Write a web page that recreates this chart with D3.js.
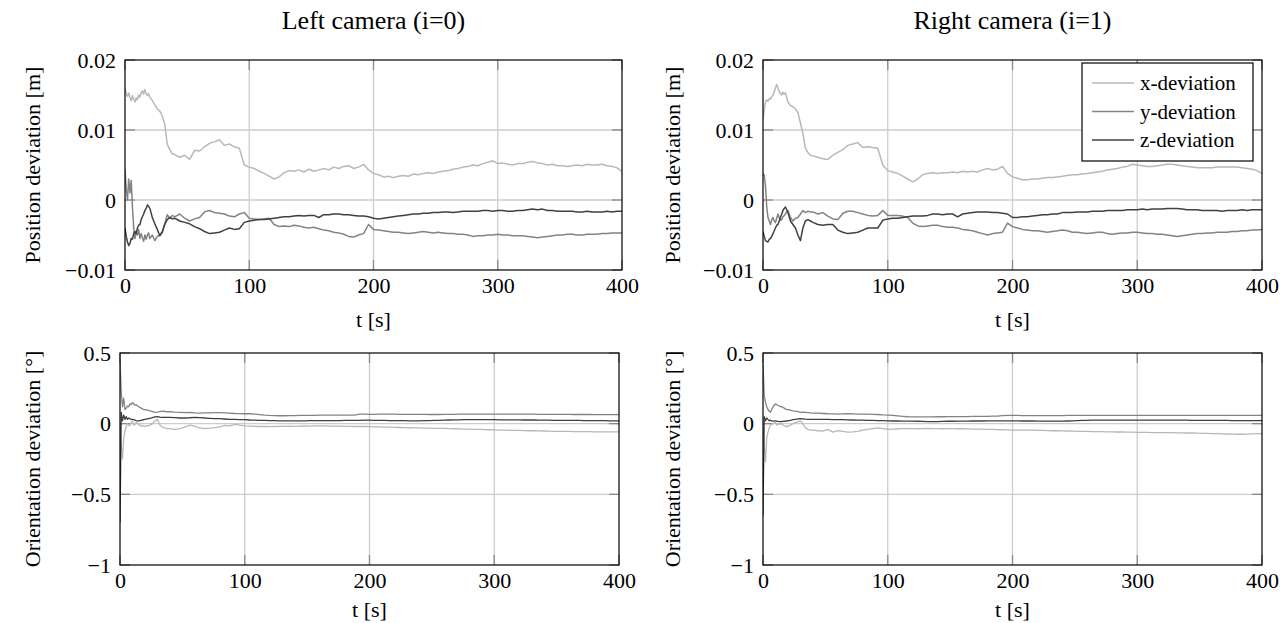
<!DOCTYPE html>
<html>
<head>
<meta charset="utf-8">
<script src="https://cdn.jsdelivr.net/npm/d3@7"></script>
<style>
  body { margin: 0; background: #fff; }
  svg text { font-family: "Liberation Serif", "Times New Roman", serif !important; fill: #000; }
</style>
</head>
<body>
<svg id="chart" width="1286" height="623" font-family="Liberation Serif, serif"></svg>
<script>
'use strict'

// time stamps [s], shared by every series
const tSec = [
  0, 1, 2, 3, 4, 5, 6, 7, 8, 9,
  10, 11, 12, 13, 14, 15, 16, 17, 18, 19,
  20, 22, 24, 26, 28, 30, 32, 34, 36, 38,
  40, 44, 48, 52, 56, 60, 64, 68, 72, 76,
  80, 84, 88, 92, 96, 100, 104, 108, 112, 116,
  120, 124, 128, 132, 136, 140, 144, 148, 152, 156,
  160, 164, 168, 172, 176, 180, 184, 188, 192, 196,
  200, 204, 208, 212, 216, 220, 224, 228, 232, 236,
  240, 244, 248, 252, 256, 260, 264, 268, 272, 276,
  280, 284, 288, 292, 296, 300, 304, 308, 312, 316,
  320, 324, 328, 332, 336, 340, 344, 348, 352, 356,
  360, 364, 368, 372, 376, 380, 384, 388, 392, 396,
  400];

// position deviation, left camera [mm]
const posLeftX = [
  16.0, 15.2, 14.8, 15.3, 14.6, 14.2, 14.9, 14.4, 14.0, 14.6,
  14.3, 15.0, 14.7, 15.3, 15.6, 15.1, 15.8, 15.2, 14.9, 15.2,
  14.7, 14.2, 13.6, 13.0, 12.7, 12.0, 10.8, 8.0, 7.2, 6.6,
  6.5, 6.1, 6.4, 5.8, 7.1, 7.0, 7.6, 8.1, 8.3, 8.6,
  7.8, 8.0, 7.6, 7.4, 5.0, 4.7, 4.5, 4.1, 3.8, 3.4,
  3.0, 3.3, 3.9, 4.2, 4.1, 4.3, 4.0, 4.4, 4.1, 4.3,
  4.5, 4.3, 4.7, 4.5, 4.8, 4.9, 4.5, 4.7, 5.1, 4.3,
  3.8, 3.6, 3.3, 3.4, 3.2, 3.4, 3.5, 3.4, 3.7, 3.6,
  3.8, 3.9, 3.8, 4.0, 4.1, 4.2, 4.4, 4.5, 4.7, 4.8,
  5.0, 4.9, 5.2, 5.4, 5.6, 5.2, 5.3, 5.1, 5.0, 5.2,
  5.2, 5.4, 5.5, 5.3, 5.2, 5.0, 5.1, 4.9, 4.9, 4.8,
  4.9, 5.0, 4.9, 5.1, 5.0, 5.0, 5.1, 4.9, 4.8, 4.6,
  4.1];
const posLeftY = [
  4.4, 1.5, 0.0, 3.0, 1.0, 2.8, -1.0, -4.0, -5.5, -4.6,
  -5.0, -4.2, -5.5, -4.8, -5.4, -5.9, -5.0, -5.6, -5.0, -4.7,
  -5.5, -5.0, -5.8, -5.2, -5.0, -4.5, -3.4, -2.1, -2.6, -2.2,
  -2.4, -2.0, -2.6, -3.0, -2.7, -2.5, -1.7, -1.5, -1.8, -1.9,
  -2.0, -2.3, -2.4, -2.0, -1.8, -2.6, -2.7, -2.8, -2.7, -2.6,
  -3.5, -3.8, -3.7, -3.8, -3.6, -3.7, -3.9, -4.0, -3.9, -4.1,
  -4.3, -4.4, -4.6, -4.7, -4.9, -5.2, -5.3, -5.0, -4.8, -3.5,
  -4.2, -4.3, -4.4, -4.5, -4.6, -4.6, -4.7, -4.8, -4.7, -4.6,
  -4.5, -4.6, -4.7, -4.6, -4.7, -4.8, -4.8, -4.9, -4.9, -5.0,
  -5.2, -5.1, -5.1, -5.0, -5.0, -4.9, -5.0, -5.0, -5.1, -5.1,
  -5.1, -5.2, -5.3, -5.4, -5.3, -5.2, -5.1, -5.0, -5.0, -4.9,
  -4.9, -5.0, -5.0, -4.9, -4.9, -4.9, -4.8, -4.8, -4.7, -4.7,
  -4.7];
const posLeftZ = [
  -4.0, -5.2, -6.0, -6.5, -6.2, -5.5, -5.6, -4.8, -4.5, -4.8,
  -4.0, -3.6, -3.5, -2.8, -2.4, -2.0, -1.5, -1.2, -0.7, -0.9,
  -1.2, -2.5, -3.4, -4.2, -5.1, -4.6, -3.5, -2.8, -2.5, -2.7,
  -2.6, -3.0, -3.2, -3.4, -3.8, -4.1, -4.5, -4.8, -4.7, -4.6,
  -4.3, -4.0, -4.2, -4.1, -3.2, -3.0, -2.9, -2.8, -2.8, -2.7,
  -2.6, -2.5, -2.4, -2.4, -2.3, -2.2, -2.3, -2.2, -2.2, -2.5,
  -2.1, -2.1, -2.0, -2.0, -2.1, -2.1, -2.2, -2.3, -2.3, -2.4,
  -2.6, -2.7, -2.6, -2.5, -2.4, -2.3, -2.2, -2.1, -2.0, -2.0,
  -1.9, -1.9, -1.8, -1.8, -1.7, -1.7, -1.8, -1.7, -1.6, -1.6,
  -1.6, -1.6, -1.5, -1.5, -1.6, -1.5, -1.5, -1.6, -1.6, -1.5,
  -1.5, -1.4, -1.3, -1.4, -1.3, -1.5, -1.5, -1.6, -1.6, -1.6,
  -1.6, -1.7, -1.7, -1.6, -1.7, -1.7, -1.7, -1.6, -1.7, -1.6,
  -1.6];

// position deviation, right camera [mm]
const posRightX = [
  11.5, 13.0, 14.0, 14.3, 14.1, 14.5, 14.4, 14.8, 15.0, 15.4,
  16.0, 16.5, 16.0, 15.5, 15.2, 15.0, 15.4, 15.1, 15.3, 14.6,
  14.0, 13.5, 13.3, 13.0, 12.5, 11.0, 9.5, 7.4, 6.8, 6.4,
  6.3, 6.1, 5.9, 5.8, 6.4, 6.8, 7.2, 7.8, 8.0, 8.2,
  7.5, 7.6, 7.5, 7.4, 5.0, 4.2, 4.0, 3.8, 3.4, 3.0,
  2.6, 3.0, 3.6, 3.8, 3.9, 3.8, 3.9, 3.9, 4.0, 3.9,
  4.1, 4.0, 4.1, 4.0, 4.3, 4.5, 4.3, 4.4, 4.8, 3.8,
  3.3, 3.1, 2.9, 2.9, 3.0, 3.0, 3.1, 3.2, 3.2, 3.3,
  3.4, 3.5, 3.6, 3.6, 3.7, 3.8, 3.9, 4.0, 4.1, 4.3,
  4.4, 4.5, 4.7, 4.8, 5.1, 5.0, 4.9, 4.8, 4.8, 4.9,
  5.0, 5.1, 5.1, 5.0, 4.9, 4.8, 4.7, 4.6, 4.6, 4.6,
  4.6, 4.7, 4.7, 4.7, 4.7, 4.7, 4.6, 4.5, 4.4, 4.2,
  3.8];
const posRightY = [
  3.8, 3.5, 2.0, -1.0, -2.5, -3.0, -3.5, -2.8, -2.5, -3.0,
  -3.2, -2.6, -2.0, -2.5, -2.9, -2.8, -2.4, -2.2, -2.0, -1.7,
  -1.5, -2.5, -3.0, -2.6, -2.5, -2.0, -1.5, -1.8, -1.6, -1.7,
  -1.7, -2.0, -1.8, -2.3, -2.7, -2.8, -1.9, -1.6, -1.6, -1.8,
  -2.0, -2.2, -2.3, -2.2, -1.5, -2.2, -2.2, -2.2, -2.3, -2.5,
  -3.3, -3.7, -3.8, -3.7, -3.6, -3.6, -3.8, -3.9, -3.9, -4.0,
  -4.2, -4.3, -4.4, -4.6, -4.8, -5.0, -4.8, -4.7, -4.6, -3.3,
  -3.8, -4.0, -4.2, -4.3, -4.4, -4.4, -4.5, -4.6, -4.5, -4.4,
  -4.3, -4.4, -4.6, -4.6, -4.7, -4.8, -4.7, -4.6, -4.6, -4.8,
  -4.9, -4.8, -4.7, -4.7, -4.6, -4.6, -4.7, -4.8, -4.8, -4.9,
  -4.9, -5.0, -5.1, -5.2, -5.1, -5.0, -4.9, -4.8, -4.8, -4.7,
  -4.7, -4.6, -4.6, -4.6, -4.5, -4.5, -4.4, -4.4, -4.3, -4.3,
  -4.2];
const posRightZ = [
  -4.5, -5.2, -5.8, -5.9, -6.0, -5.6, -5.5, -5.2, -4.8, -4.4,
  -4.0, -3.6, -3.5, -3.0, -2.5, -2.0, -1.5, -1.2, -1.0, -1.4,
  -1.8, -3.0, -3.5, -4.0, -5.0, -5.8, -4.0, -3.0, -2.8, -3.0,
  -3.2, -3.5, -3.6, -3.5, -3.5, -4.3, -4.6, -4.8, -4.7, -4.6,
  -4.3, -4.0, -4.0, -4.0, -2.9, -2.7, -2.6, -2.6, -2.5, -2.4,
  -2.3, -2.3, -2.3, -2.2, -2.0, -2.0, -2.1, -2.0, -2.0, -2.4,
  -2.0, -1.9, -1.8, -1.7, -1.7, -1.7, -1.8, -1.8, -1.9, -2.0,
  -2.5, -2.5, -2.4, -2.4, -2.3, -2.2, -2.1, -2.1, -2.0, -2.0,
  -1.8, -1.8, -1.8, -1.7, -1.7, -1.7, -1.6, -1.6, -1.6, -1.5,
  -1.5, -1.5, -1.5, -1.4, -1.4, -1.4, -1.3, -1.4, -1.3, -1.3,
  -1.3, -1.2, -1.2, -1.2, -1.3, -1.4, -1.4, -1.4, -1.5, -1.5,
  -1.5, -1.5, -1.6, -1.5, -1.5, -1.5, -1.4, -1.5, -1.4, -1.4,
  -1.4];

// orientation deviation, left camera [deg]
const oriLeftX = [
  0.000, -0.150, -0.250, -0.100, -0.050, -0.020, 0.000, -0.015, -0.010, 0.005,
  0.020, -0.010, -0.005, 0.010, 0.000, -0.005, -0.015, -0.010, -0.020, -0.015,
  -0.020, -0.015, -0.010, 0.000, 0.020, 0.030, -0.010, -0.025, -0.030, -0.035,
  -0.035, -0.040, -0.035, -0.025, -0.010, -0.020, -0.030, -0.035, -0.032, -0.028,
  -0.022, -0.012, -0.015, -0.005, -0.010, -0.015, -0.017, -0.019, -0.020, -0.020,
  -0.021, -0.020, -0.019, -0.019, -0.018, -0.019, -0.017, -0.016, -0.017, -0.015,
  -0.015, -0.016, -0.017, -0.017, -0.018, -0.019, -0.019, -0.020, -0.020, -0.020,
  -0.021, -0.022, -0.023, -0.024, -0.025, -0.026, -0.027, -0.028, -0.029, -0.030,
  -0.030, -0.031, -0.032, -0.033, -0.033, -0.034, -0.035, -0.036, -0.037, -0.038,
  -0.039, -0.040, -0.041, -0.042, -0.043, -0.044, -0.045, -0.046, -0.047, -0.048,
  -0.048, -0.049, -0.050, -0.050, -0.051, -0.052, -0.053, -0.054, -0.054, -0.055,
  -0.055, -0.056, -0.056, -0.057, -0.057, -0.058, -0.058, -0.058, -0.058, -0.058,
  -0.058];
const oriLeftY = [
  0.450, 0.220, 0.120, 0.180, 0.100, 0.110, 0.125, 0.120, 0.140, 0.135,
  0.150, 0.140, 0.130, 0.135, 0.125, 0.120, 0.115, 0.110, 0.105, 0.100,
  0.100, 0.095, 0.090, 0.085, 0.080, 0.082, 0.085, 0.088, 0.086, 0.084,
  0.085, 0.082, 0.080, 0.078, 0.079, 0.076, 0.075, 0.077, 0.076, 0.078,
  0.078, 0.076, 0.074, 0.072, 0.071, 0.070, 0.070, 0.068, 0.064, 0.060,
  0.058, 0.057, 0.056, 0.056, 0.057, 0.057, 0.058, 0.058, 0.059, 0.059,
  0.060, 0.060, 0.061, 0.061, 0.060, 0.060, 0.061, 0.060, 0.067, 0.067,
  0.066, 0.066, 0.067, 0.067, 0.068, 0.067, 0.066, 0.066, 0.066, 0.066,
  0.066, 0.066, 0.065, 0.065, 0.065, 0.066, 0.066, 0.066, 0.067, 0.067,
  0.067, 0.067, 0.068, 0.068, 0.068, 0.068, 0.068, 0.068, 0.068, 0.068,
  0.068, 0.067, 0.067, 0.067, 0.066, 0.066, 0.066, 0.066, 0.066, 0.066,
  0.066, 0.065, 0.065, 0.065, 0.065, 0.064, 0.064, 0.064, 0.064, 0.064,
  0.064];
const oriLeftZ = [
  -0.700, 0.080, 0.020, 0.060, 0.030, 0.050, 0.030, 0.040, 0.035, 0.030,
  0.030, 0.028, 0.025, 0.022, 0.020, 0.020, 0.022, 0.024, 0.026, 0.028,
  0.030, 0.034, 0.038, 0.042, 0.048, 0.050, 0.046, 0.045, 0.044, 0.045,
  0.045, 0.043, 0.040, 0.040, 0.042, 0.045, 0.043, 0.040, 0.038, 0.036,
  0.035, 0.033, 0.031, 0.030, 0.029, 0.028, 0.026, 0.025, 0.024, 0.023,
  0.022, 0.021, 0.020, 0.020, 0.020, 0.020, 0.020, 0.020, 0.021, 0.021,
  0.021, 0.022, 0.022, 0.022, 0.022, 0.023, 0.023, 0.024, 0.024, 0.025,
  0.025, 0.024, 0.023, 0.023, 0.022, 0.022, 0.021, 0.021, 0.020, 0.020,
  0.020, 0.021, 0.022, 0.023, 0.024, 0.025, 0.026, 0.027, 0.027, 0.028,
  0.028, 0.028, 0.028, 0.028, 0.028, 0.028, 0.027, 0.027, 0.027, 0.027,
  0.027, 0.026, 0.026, 0.026, 0.025, 0.025, 0.025, 0.024, 0.024, 0.024,
  0.023, 0.023, 0.023, 0.022, 0.022, 0.022, 0.021, 0.021, 0.020, 0.020,
  0.020];

// orientation deviation, right camera [deg]
const oriRightX = [
  0.000, -0.150, -0.270, -0.100, -0.060, -0.030, -0.010, -0.005, 0.000, 0.005,
  0.010, -0.010, -0.005, 0.000, -0.005, 0.000, -0.010, -0.015, -0.020, -0.018,
  -0.020, -0.010, 0.000, 0.008, 0.015, 0.020, 0.000, -0.030, -0.040, -0.045,
  -0.045, -0.050, -0.052, -0.040, -0.060, -0.050, -0.055, -0.060, -0.058, -0.055,
  -0.045, -0.040, -0.035, -0.030, -0.035, -0.040, -0.038, -0.036, -0.035, -0.035,
  -0.035, -0.036, -0.035, -0.034, -0.035, -0.035, -0.036, -0.035, -0.035, -0.036,
  -0.036, -0.037, -0.038, -0.038, -0.039, -0.040, -0.041, -0.042, -0.043, -0.044,
  -0.045, -0.045, -0.045, -0.046, -0.046, -0.047, -0.048, -0.049, -0.050, -0.050,
  -0.051, -0.052, -0.053, -0.054, -0.055, -0.055, -0.056, -0.057, -0.057, -0.058,
  -0.058, -0.059, -0.059, -0.060, -0.060, -0.061, -0.061, -0.062, -0.063, -0.063,
  -0.063, -0.064, -0.064, -0.065, -0.065, -0.066, -0.066, -0.067, -0.068, -0.069,
  -0.070, -0.071, -0.072, -0.073, -0.074, -0.075, -0.075, -0.074, -0.072, -0.071,
  -0.070];
const oriRightY = [
  0.420, 0.200, 0.150, 0.120, 0.100, 0.090, 0.080, 0.100, 0.120, 0.130,
  0.140, 0.135, 0.130, 0.125, 0.120, 0.120, 0.115, 0.110, 0.105, 0.100,
  0.100, 0.095, 0.090, 0.088, 0.085, 0.080, 0.082, 0.080, 0.078, 0.076,
  0.075, 0.074, 0.072, 0.070, 0.069, 0.068, 0.069, 0.070, 0.069, 0.068,
  0.068, 0.067, 0.066, 0.065, 0.062, 0.060, 0.058, 0.055, 0.052, 0.049,
  0.048, 0.048, 0.048, 0.048, 0.048, 0.049, 0.049, 0.050, 0.050, 0.050,
  0.050, 0.050, 0.051, 0.051, 0.052, 0.052, 0.053, 0.054, 0.057, 0.058,
  0.058, 0.058, 0.057, 0.057, 0.057, 0.057, 0.057, 0.057, 0.057, 0.057,
  0.057, 0.058, 0.058, 0.058, 0.059, 0.059, 0.059, 0.058, 0.058, 0.058,
  0.058, 0.058, 0.059, 0.059, 0.059, 0.058, 0.058, 0.058, 0.058, 0.058,
  0.058, 0.059, 0.059, 0.059, 0.058, 0.058, 0.058, 0.058, 0.058, 0.058,
  0.058, 0.058, 0.058, 0.058, 0.058, 0.058, 0.058, 0.058, 0.058, 0.058,
  0.058];
const oriRightZ = [
  -0.650, 0.050, 0.020, 0.040, 0.030, 0.020, 0.025, 0.020, 0.018, 0.020,
  0.020, 0.018, 0.016, 0.015, 0.015, 0.015, 0.016, 0.017, 0.018, 0.019,
  0.020, 0.024, 0.028, 0.031, 0.034, 0.035, 0.034, 0.032, 0.031, 0.030,
  0.030, 0.030, 0.030, 0.030, 0.029, 0.028, 0.028, 0.027, 0.026, 0.025,
  0.025, 0.024, 0.023, 0.022, 0.021, 0.020, 0.019, 0.019, 0.018, 0.018,
  0.018, 0.017, 0.016, 0.015, 0.015, 0.015, 0.016, 0.017, 0.017, 0.018,
  0.018, 0.018, 0.019, 0.019, 0.019, 0.020, 0.020, 0.020, 0.020, 0.020,
  0.020, 0.020, 0.019, 0.019, 0.019, 0.018, 0.018, 0.018, 0.018, 0.018,
  0.018, 0.019, 0.020, 0.022, 0.023, 0.024, 0.025, 0.025, 0.025, 0.025,
  0.025, 0.025, 0.025, 0.025, 0.025, 0.025, 0.025, 0.025, 0.025, 0.025,
  0.025, 0.025, 0.025, 0.025, 0.025, 0.025, 0.024, 0.024, 0.024, 0.023,
  0.023, 0.023, 0.023, 0.023, 0.022, 0.022, 0.022, 0.022, 0.022, 0.022,
  0.022];

const seriesNames = ['x-deviation', 'y-deviation', 'z-deviation'];
const xTicks = [0, 100, 200, 300, 400];
const posTicks = [-0.01, 0, 0.01, 0.02];
const posTickLabels = ['\u22120.01', '0', '0.01', '0.02'];
const oriTicks = [-1, -0.5, 0, 0.5];
const oriTickLabels = ['\u22121', '\u22120.5', '0', '0.5'];
const titles = ['Left camera (i=0)', 'Right camera (i=1)'];

const lineColors = ['#b8b8b8', '#838383', '#404040'];
const gridColor = '#cdcdcd';
const tickColor = '#8a8a8a';
const serif = '"Liberation Serif", "Times New Roman", serif';

const svg = d3.select('#chart');

const mm = (arr) => arr.map(v => v / 1000);

const panels = [
  { x0: 125, x1: 622, y0: 60, y1: 270, yDomain: [-0.01, 0.02], ticks: posTicks, tickLabels: posTickLabels,
    yLabel: 'Position deviation [m]', labelX: 33, title: titles[0], tLabelDy: 57, lw: 1.5,
    data: [mm(posLeftX), mm(posLeftY), mm(posLeftZ)], legend: false },
  { x0: 763, x1: 1262, y0: 60, y1: 270, yDomain: [-0.01, 0.02], ticks: posTicks, tickLabels: posTickLabels,
    yLabel: 'Position deviation [m]', labelX: 673, title: titles[1], tLabelDy: 57, lw: 1.5,
    data: [mm(posRightX), mm(posRightY), mm(posRightZ)], legend: true },
  { x0: 120, x1: 619, y0: 353, y1: 565, yDomain: [-1, 0.5], ticks: oriTicks, tickLabels: oriTickLabels,
    yLabel: 'Orientation deviation [\u00B0]', labelX: 33, title: null, tLabelDy: 52, lw: 1.3,
    data: [oriLeftX, oriLeftY, oriLeftZ], legend: false },
  { x0: 763, x1: 1262, y0: 353, y1: 565, yDomain: [-1, 0.5], ticks: oriTicks, tickLabels: oriTickLabels,
    yLabel: 'Orientation deviation [\u00B0]', labelX: 673, title: null, tLabelDy: 52, lw: 1.3,
    data: [oriRightX, oriRightY, oriRightZ], legend: false }
];

panels.forEach((p, pi) => {
  const x = d3.scaleLinear().domain([0, 400]).range([p.x0, p.x1]);
  const y = d3.scaleLinear().domain(p.yDomain).range([p.y1, p.y0]);
  const g = svg.append('g').attr('class', 'panel-' + pi);

  // clip for the data lines
  const clipId = 'clip' + pi;
  svg.append('clipPath').attr('id', clipId)
    .append('rect')
      .attr('x', p.x0).attr('y', p.y0)
      .attr('width', p.x1 - p.x0).attr('height', p.y1 - p.y0);

  // grid
  g.append('g').selectAll('line')
    .data(xTicks.slice(1, -1))
    .enter().append('line')
      .attr('x1', d => x(d)).attr('x2', d => x(d))
      .attr('y1', p.y0).attr('y2', p.y1)
      .attr('stroke', gridColor).attr('stroke-width', 1.3);
  g.append('g').selectAll('line')
    .data(p.ticks.slice(1, -1))
    .enter().append('line')
      .attr('x1', p.x0).attr('x2', p.x1)
      .attr('y1', d => y(d)).attr('y2', d => y(d))
      .attr('stroke', gridColor).attr('stroke-width', 1.3);

  // inner tick marks on all four sides
  const tl = 10;
  const tg = g.append('g').attr('stroke', tickColor).attr('stroke-width', 1.3);
  xTicks.forEach(d => {
    tg.append('line').attr('x1', x(d)).attr('x2', x(d)).attr('y1', p.y1).attr('y2', p.y1 - tl);
    tg.append('line').attr('x1', x(d)).attr('x2', x(d)).attr('y1', p.y0).attr('y2', p.y0 + tl);
  });
  p.ticks.forEach(d => {
    tg.append('line').attr('x1', p.x0).attr('x2', p.x0 + tl).attr('y1', y(d)).attr('y2', y(d));
    tg.append('line').attr('x1', p.x1).attr('x2', p.x1 - tl).attr('y1', y(d)).attr('y2', y(d));
  });

  // data lines
  const line = d3.line()
    .x((d, i) => x(tSec[i]))
    .y(d => y(d));
  g.append('g').attr('clip-path', 'url(#' + clipId + ')')
    .selectAll('path')
    .data(p.data)
    .enter().append('path')
      .attr('d', line)
      .attr('fill', 'none')
      .attr('stroke', (d, i) => lineColors[i])
      .attr('stroke-width', p.lw)
      .attr('stroke-linejoin', 'round');

  // frame
  g.append('rect')
    .attr('x', p.x0).attr('y', p.y0)
    .attr('width', p.x1 - p.x0).attr('height', p.y1 - p.y0)
    .attr('fill', 'none').attr('stroke', '#000').attr('stroke-width', 1.2);

  // tick labels via d3 axes
  const xAxis = d3.axisBottom(x).tickValues(xTicks).tickSize(0).tickPadding(7)
    .tickFormat(d3.format('d'));
  const xg = g.append('g').attr('transform', 'translate(0,' + p.y1 + ')').call(xAxis)
    .attr('font-family', serif).attr('font-size', 22);
  xg.select('.domain').remove();
  xg.selectAll('text').style('font-family', serif).style('font-size', '22px');

  const yAxis = d3.axisLeft(y).tickValues(p.ticks).tickSize(0).tickPadding(9)
    .tickFormat((d, i) => p.tickLabels[i]);
  const yg = g.append('g').attr('transform', 'translate(' + p.x0 + ',0)').call(yAxis)
    .attr('font-family', serif).attr('font-size', 22);
  yg.select('.domain').remove();
  yg.selectAll('text').style('font-family', serif).style('font-size', '22px');

  // axis titles
  g.append('text')
    .attr('x', (p.x0 + p.x1) / 2).attr('y', p.y1 + p.tLabelDy)
    .attr('text-anchor', 'middle')
    .style('font-family', serif).style('font-size', '22px')
    .text('t [s]');
  g.append('text')
    .attr('transform', 'translate(' + (p.labelX + 7) + ',' + ((p.y0 + p.y1) / 2) + ') rotate(-90)')
    .attr('text-anchor', 'middle')
    .style('font-family', serif).style('font-size', '22px')
    .text(p.yLabel);

  if (p.title) {
    g.append('text')
      .attr('x', (p.x0 + p.x1) / 2).attr('y', 29)
      .attr('text-anchor', 'middle')
      .style('font-family', serif).style('font-size', '26px')
      .text(p.title);
  }

  if (p.legend) {
    const lx = 1082, ly = 63;
    const lg = g.append('g');
    lg.append('rect')
      .attr('x', lx).attr('y', ly).attr('width', 171).attr('height', 98)
      .attr('fill', '#fff').attr('stroke', '#000').attr('stroke-width', 1.2);
    seriesNames.forEach((name, i) => {
      const yy = ly + 20 + i * 28.5;
      lg.append('line')
        .attr('x1', lx + 10).attr('x2', lx + 52).attr('y1', yy).attr('y2', yy)
        .attr('stroke', lineColors[i]).attr('stroke-width', 1.3);
      lg.append('text')
        .attr('x', lx + 58).attr('y', yy + 7)
        .style('font-family', serif).style('font-size', '21px')
        .text(name);
    });
  }
});
</script>
</body>
</html>
